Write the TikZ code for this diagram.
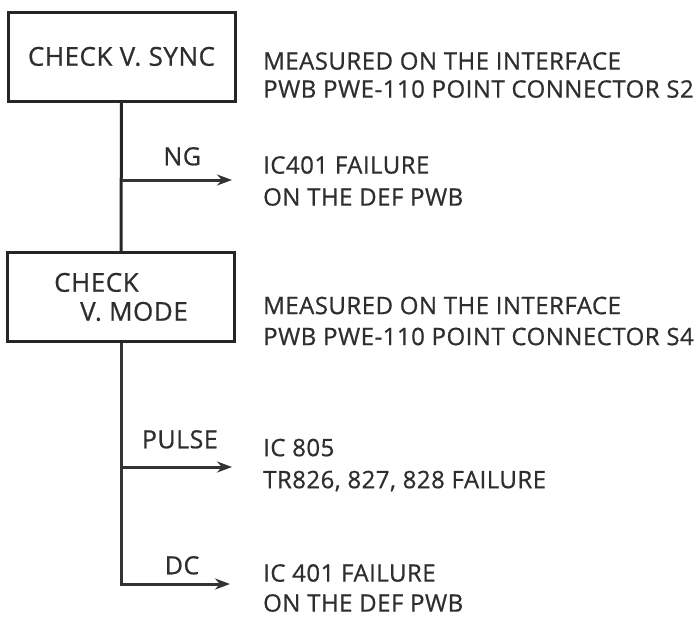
\documentclass[tikz,border=0pt]{standalone}
\usepackage{fontspec}
\newfontfamily\diagfont{Open Sans}[FakeBold=0.7, LetterSpace=2]
\usetikzlibrary{arrows.meta, positioning}

\begin{document}
\begin{tikzpicture}[
    x=1pt, y=-1pt,
    >={Stealth[length=15pt, width=11pt]},
    every node/.style={font=\diagfont\fontsize{24}{28}\selectfont, text=black!82},
    chkbox/.style={rectangle, draw=black!85, line width=3pt,
                   minimum width=227pt, minimum height=89pt, align=left,
                   font=\diagfont\fontsize{26}{29}\selectfont},
    note/.style={anchor=west, inner sep=0pt, align=left},
    wide/.style={note, font=\diagfont\fontsize{24}{32}\selectfont},
    lbl/.style={inner sep=0pt, font=\diagfont\fontsize{25}{28}\selectfont},
    trunk/.style={line width=3pt, draw=black!85},
    arrow/.style={->, line width=3pt, draw=black!80}
]
\useasboundingbox (0,0) rectangle (700,619);

% Pruefschritte
\node[chkbox] (sync) at (121.5,56.5) {CHECK V. SYNC};
\node[chkbox] (mode) at (121,297) {CHECK\\\hspace*{1em}V. MODE};

% Hinweise rechts
\node[note] (meas1) at (263,75) {MEASURED ON THE INTERFACE\\PWB PWE-110 POINT CONNECTOR S2};
\node[wide] (fail1) at (263,181) {IC401 FAILURE\\ON THE DEF PWB};
\node[note, font=\diagfont\fontsize{24}{31}\selectfont] (meas2) at (263,321)
    {MEASURED ON THE INTERFACE\\PWB PWE-110 POINT CONNECTOR S4};
\node[wide] (fail2) at (263,465) {IC 805\\TR826, 827, 828 FAILURE};
\node[wide, font=\diagfont\fontsize{24}{30}\selectfont] (fail3) at (263,588) {IC 401 FAILURE\\ON THE DEF PWB};

% Pfeilenden
\coordinate (ngend) at (232,180);
\coordinate (pulseend) at (232,467);
\coordinate (dcend) at (230,584);

% Verbindungen
\draw[trunk] (sync) -- (mode);
\draw[arrow] (sync.south |- ngend) -- node[lbl, pos=0.55, above=13pt] (ng) {NG} (ngend);
\draw[arrow] (mode.south |- pulseend) -- node[lbl, pos=0.53, above=17pt] (pulse) {PULSE} (pulseend);
\draw[arrow] (mode.south) |- node[lbl, pos=0.78, above=8pt] (dc) {DC} (dcend);

\end{tikzpicture}
\end{document}
